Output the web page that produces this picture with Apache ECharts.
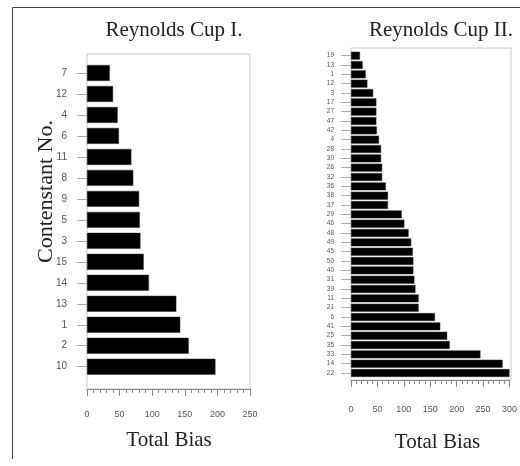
<!DOCTYPE html>
<html><head><meta charset="utf-8">
<script src="https://cdn.jsdelivr.net/npm/echarts@6/dist/echarts.min.js"></script>
<style>html,body{margin:0;padding:0;background:#fff}#c{width:520px;height:466px}</style>
</head><body><div id="c"></div>
<script>
// Reynolds Cup I (top to bottom)
var cup1Labels = ['7','12','4','6','11','8','9','5','3','15','14','13','1','2','10'];
var cup1Values = [35,40,47,49,68,71,80,81,82,87,95,137,143,156,197];
// Reynolds Cup II (top to bottom)
var cup2Labels = ['19','13','1','12','3','17','27','47','42','4','28','30','26','32','36','38','37','29','46','48','49','45','50','40','31','39','11','21','6','41','25','35','33','14','22'];
var cup2Values = [17,22,28,31,42,48,48,48,49,53,57,57,59,59,66,70,70,96,101,109,114,117,118,118,120,122,128,128,159,169,182,187,245,287,300];
var cup1Ticks = [0,50,100,150,200,250];
var cup2Ticks = [0,50,100,150,200,250,300];

var serif = '"Liberation Serif","Times New Roman",serif';
var sans = '"Liberation Sans",Arial,sans-serif';

function valAxis(grid, ticks, offset, margin) {
  return {
    type: 'value', gridIndex: grid, min: ticks[0], max: ticks[ticks.length-1],
    interval: ticks[1]-ticks[0], offset: offset,
    axisLine: {show: true, lineStyle: {color: '#888', width: 1}},
    axisTick: {show: true, length: 7, lineStyle: {color: '#888'}},
    minorTick: {show: true, splitNumber: 5, length: 4, lineStyle: {color: '#888'}},
    splitLine: {show: false},
    axisLabel: {fontSize: 9, color: '#555', fontFamily: sans, margin: margin}
  };
}
function catAxis(grid, labels, fs, margin) {
  return {
    type: 'category', gridIndex: grid, data: labels, inverse: true, offset: 3,
    axisLine: {show: false},
    axisTick: {show: true, alignWithLabel: true, length: 10, lineStyle: {color: '#aaa'}},
    axisLabel: {fontSize: fs, color: '#555', fontFamily: sans, margin: margin}
  };
}
var hidden = {show: false};

var option = {
  animation: false,
  grid: [
    {left: 87, top: 54, width: 163, height: 335, show: true, borderColor: '#c8c8c8', borderWidth: 1, backgroundColor: 'transparent'},
    {left: 87, top: 62.5, width: 163, height: 314.7},
    {left: 351, top: 48, width: 160, height: 332, show: true, borderColor: '#c8c8c8', borderWidth: 1, backgroundColor: 'transparent'},
    {left: 351, top: 51, width: 160, height: 326.7}
  ],
  xAxis: [
    Object.assign({type: 'value', gridIndex: 0, min: 0, max: 1}, hidden),
    valAxis(1, cup1Ticks, 11.8, 21),
    Object.assign({type: 'value', gridIndex: 2, min: 0, max: 1}, hidden),
    valAxis(3, cup2Ticks, 2.3, 25)
  ],
  yAxis: [
    Object.assign({type: 'value', gridIndex: 0, min: 0, max: 1}, hidden),
    catAxis(1, cup1Labels, 10, 17),
    Object.assign({type: 'value', gridIndex: 2, min: 0, max: 1}, hidden),
    catAxis(3, cup2Labels, 6.5, 14)
  ],
  series: [
    {type: 'bar', xAxisIndex: 1, yAxisIndex: 1, data: cup1Values, barCategoryGap: '24%',
     itemStyle: {color: '#000', borderColor: '#333', borderWidth: 0.5}},
    {type: 'bar', xAxisIndex: 3, yAxisIndex: 3, data: cup2Values, barCategoryGap: '15%',
     itemStyle: {color: '#000', borderColor: '#333', borderWidth: 0.5}}
  ],
  graphic: [
    {type: 'line', shape: {x1: 12.5, y1: 7.5, x2: 520, y2: 7.5}, style: {stroke: '#444', lineWidth: 1}},
    {type: 'line', shape: {x1: 12.5, y1: 7.5, x2: 12.5, y2: 459}, style: {stroke: '#444', lineWidth: 1}},
    {type: 'text', x: 174, y: 30, style: {text: 'Reynolds Cup I.', font: '21px ' + serif, fill: '#222', textAlign: 'center', textVerticalAlign: 'middle'}},
    {type: 'text', x: 441, y: 30, style: {text: 'Reynolds Cup II.', font: '21px ' + serif, fill: '#222', textAlign: 'center', textVerticalAlign: 'middle'}},
    {type: 'text', x: 169, y: 440, style: {text: 'Total Bias', font: '21px ' + serif, fill: '#222', textAlign: 'center', textVerticalAlign: 'middle'}},
    {type: 'text', x: 437.5, y: 442, style: {text: 'Total Bias', font: '21px ' + serif, fill: '#222', textAlign: 'center', textVerticalAlign: 'middle'}},
    {type: 'text', x: 46, y: 191.5, rotation: Math.PI/2, style: {text: 'Contenstant No.', font: '22px ' + serif, fill: '#222', textAlign: 'center', textVerticalAlign: 'middle'}}
  ]
};
var chart = echarts.init(document.getElementById('c'), null, {renderer: 'canvas'});
chart.setOption(option);
</script></body></html>
